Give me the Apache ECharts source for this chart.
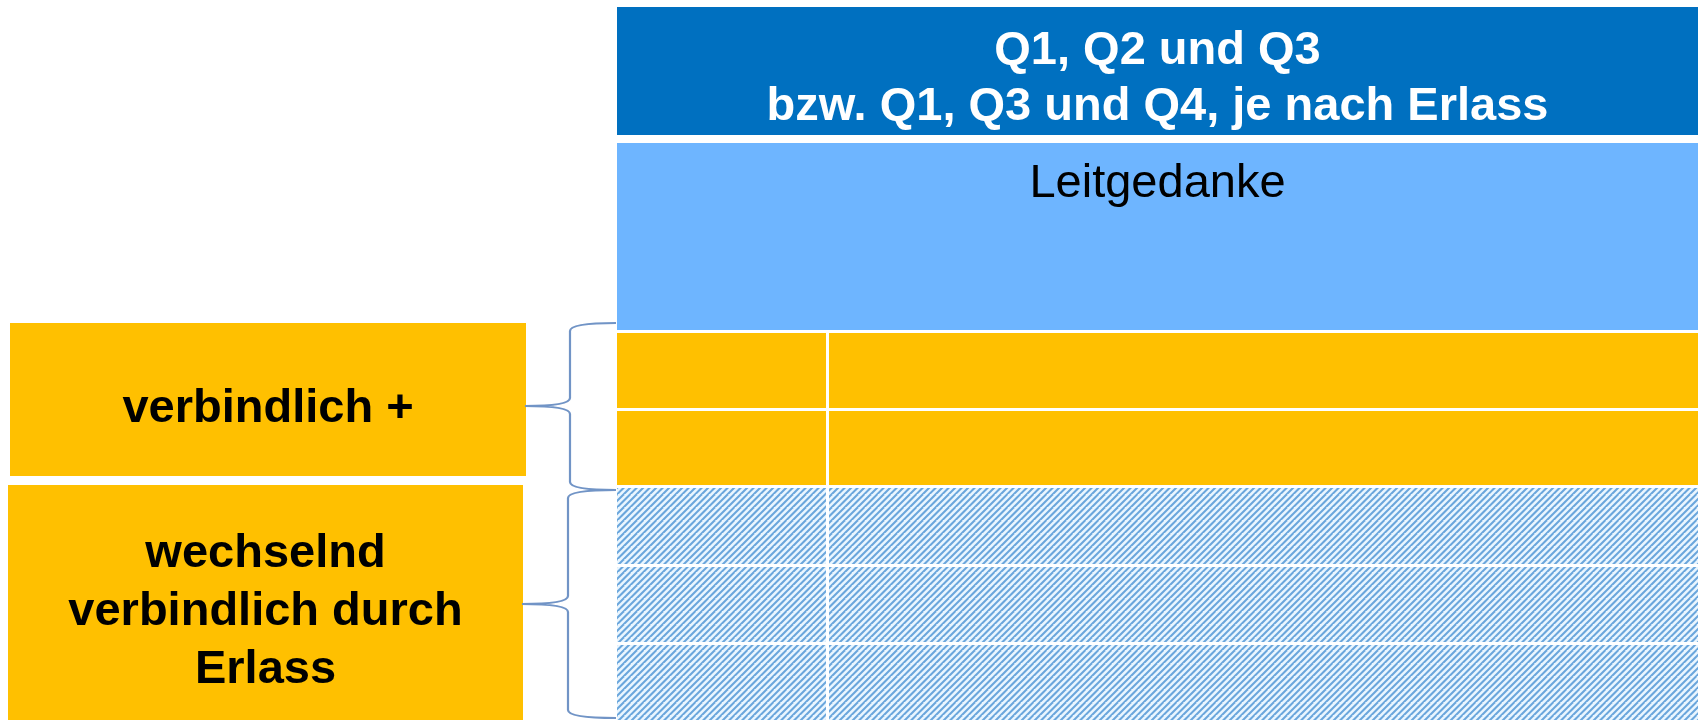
<!DOCTYPE html>
<html>
<head>
<meta charset="utf-8">
<script src="https://cdn.jsdelivr.net/npm/echarts@6/dist/echarts.min.js"></script>
<style>
  html, body { margin: 0; padding: 0; background: #ffffff; }
  #chart { width: 1698px; height: 720px; }
</style>
</head>
<body>
<div id="chart"></div>
<script>
// texts
const headerLines = ['Q1, Q2 und Q3', 'bzw. Q1, Q3 und Q4, je nach Erlass'];
const leitLabel = 'Leitgedanke';
const groupLabels = ['verbindlich +', 'wechselnd\nverbindlich durch\nErlass'];

// table bands, in diagram units (y runs 0 top .. 720 bottom)
const bandKinds = ['header', 'leit', 'fixed', 'fixed', 'open', 'open', 'open'];
const bandTop = [7, 143, 333, 411, 488, 567, 645];
const bandBottom = [135, 330, 408, 485, 564, 642, 720];
const tableCols = [617, 826, 829, 1698]; // left, split start, split end, right

// left label boxes + braces
const groupLeft = [10, 8];
const groupRight = [526, 523];
const groupTop = [323, 485];
const groupBottom = [476, 720];
const braceTop = [323, 490];
const braceBottom = [490, 718];
const braceTip = [406, 604];
const braceTipX = [525, 522];
const braceSpineX = [570, 568];
const braceEndX = 616;

const FONT = '"Liberation Sans", Arial, sans-serif';
const fills = {
  header: '#0070c0',
  leit: '#6eb5ff',
  fixed: '#ffc000',
  open: makeHatch()
};

function makeHatch() {
  const size = 13;
  const c = document.createElement('canvas');
  c.width = size;
  c.height = size;
  const ctx = c.getContext('2d');
  ctx.fillStyle = '#eaf6ff';
  ctx.fillRect(0, 0, size, size);
  ctx.strokeStyle = '#6aa6dc';
  ctx.lineWidth = 2;
  for (let k = -size; k <= size * 2; k += size / 2) {
    ctx.beginPath();
    ctx.moveTo(k - size, size * 2);
    ctx.lineTo(k + size, 0);
    ctx.stroke();
  }
  return { image: c, repeat: 'repeat' };
}

function rectBetween(api, x0, y0, x1, y1, fill) {
  const p0 = api.coord([x0, y0]);
  const p1 = api.coord([x1, y1]);
  return {
    type: 'rect',
    shape: { x: p0[0], y: p0[1], width: p1[0] - p0[0], height: p1[1] - p0[1] },
    style: { fill: fill }
  };
}

function textAt(api, x, y, text, opts) {
  const p = api.coord([x, y]);
  return {
    type: 'text',
    z2: 10,
    style: Object.assign({
      text: text,
      x: p[0],
      y: p[1],
      align: 'center',
      verticalAlign: 'middle',
      fontFamily: FONT,
      fontSize: 47,
      fill: '#000000'
    }, opts)
  };
}

function renderBand(params, api) {
  const i = api.value(2);
  const kind = bandKinds[i];
  const y0 = api.value(0);
  const y1 = api.value(1);
  const [left, splitA, splitB, right] = tableCols;
  const children = [];
  if (kind === 'header' || kind === 'leit') {
    children.push(rectBetween(api, left, y0, right, y1, fills[kind]));
  } else {
    children.push(rectBetween(api, left, y0, splitA, y1, fills[kind]));
    children.push(rectBetween(api, splitB, y0, right, y1, fills[kind]));
  }
  const cx = (left + right) / 2;
  if (kind === 'header') {
    children.push(textAt(api, cx, (y0 + y1) / 2 + 8, headerLines.join('\n'), {
      fill: '#ffffff', fontWeight: 'bold', lineHeight: 56
    }));
  }
  if (kind === 'leit') {
    children.push(textAt(api, cx, y0 + 41, leitLabel, {}));
  }
  return { type: 'group', children: children };
}

function renderGroup(params, api) {
  const i = api.value(4);
  const x0 = api.value(0), x1 = api.value(1), y0 = api.value(2), y1 = api.value(3);
  return {
    type: 'group',
    children: [
      rectBetween(api, x0, y0, x1, y1, '#ffc000'),
      textAt(api, (x0 + x1) / 2, (y0 + y1) / 2 + 10, groupLabels[i], {
        fontWeight: 'bold', lineHeight: 58
      })
    ]
  };
}

function renderBrace(params, api) {
  const i = params.dataIndex;
  const top = api.coord([braceEndX, braceTop[i]]);
  const bot = api.coord([braceEndX, braceBottom[i]]);
  const tip = api.coord([braceTipX[i], braceTip[i]]);
  const sx = api.coord([braceSpineX[i], 0])[0];
  const r = 8;
  const d = [
    'M', top[0], top[1],
    'Q', sx, top[1], sx, top[1] + r,
    'L', sx, tip[1] - r,
    'Q', sx, tip[1], tip[0], tip[1],
    'Q', sx, tip[1], sx, tip[1] + r,
    'L', sx, bot[1] - r,
    'Q', sx, bot[1], bot[0], bot[1]
  ].join(' ');
  return {
    type: 'path',
    shape: { pathData: d },
    style: { fill: null, stroke: '#7194c6', lineWidth: 2.2 }
  };
}

const chart = echarts.init(document.getElementById('chart'), null, { renderer: 'canvas' });

chart.setOption({
  animation: false,
  backgroundColor: '#ffffff',
  grid: { left: 0, right: 0, top: 0, bottom: 0 },
  xAxis: { type: 'value', min: 0, max: 1698, show: false },
  yAxis: { type: 'value', min: 0, max: 720, inverse: true, show: false },
  series: [
    {
      type: 'custom',
      silent: true,
      renderItem: renderBand,
      encode: { x: -1, y: [0, 1] },
      data: bandTop.map((t, i) => [t, bandBottom[i], i])
    },
    {
      type: 'custom',
      silent: true,
      renderItem: renderGroup,
      encode: { x: [0, 1], y: [2, 3] },
      data: groupTop.map((t, i) => [groupLeft[i], groupRight[i], t, groupBottom[i], i])
    },
    {
      type: 'custom',
      silent: true,
      renderItem: renderBrace,
      encode: { y: [0, 1] },
      data: braceTop.map((t, i) => [t, braceBottom[i], braceTip[i]])
    }
  ]
});
</script>
</body>
</html>
